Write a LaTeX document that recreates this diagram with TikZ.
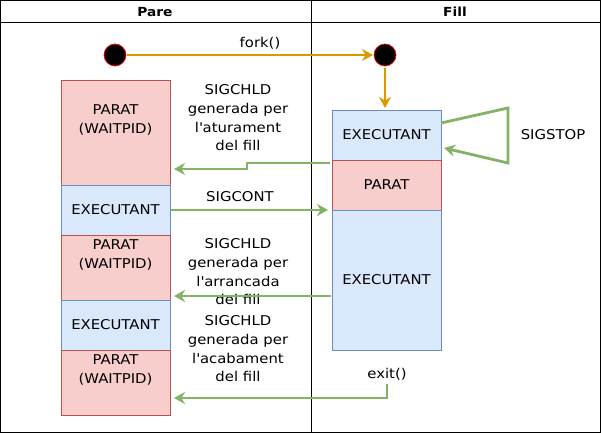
\documentclass[tikz,border=0pt]{standalone}
\usepackage{fontspec}
\setmainfont{DejaVu Sans}[FakeStretch=1.1]
\usetikzlibrary{arrows.meta}
\definecolor{redfill}{HTML}{F8CECC}
\definecolor{redline}{HTML}{B85450}
\definecolor{bluefill}{HTML}{DAE8FC}
\definecolor{blueline}{HTML}{6C8EBF}
\definecolor{gline}{HTML}{82B366}
\definecolor{oline}{HTML}{D79B00}
\newcommand{\sq}{\textquotesingle}
\begin{document}
\begin{tikzpicture}[x=1pt,y=-1pt,
  txt/.style={font=\fontsize{13.5}{18.7}\selectfont, align=center, inner sep=0pt},
  redbox/.style={draw=redline, fill=redfill, line width=0.9pt},
  bluebox/.style={draw=blueline, fill=bluefill, line width=0.9pt},
  garrow/.style={draw=gline, line width=2.8pt, -{Stealth[length=11pt,width=12pt,inset=3.5pt]}},
  oarrow/.style={draw=oline, line width=2.8pt, -{Stealth[length=11pt,width=12pt,inset=3.5pt]}},
  dot/.style={circle, fill=black, draw=red, line width=0.7pt, minimum size=22pt, inner sep=0pt}]
\useasboundingbox (0,0) rectangle (601,433);
% frame
\draw[line width=1pt] (0.5,0.5) rectangle (600.5,432.5);
\draw[line width=1pt] (0.5,23) -- (600.5,23);
\draw[line width=1pt] (311,0.5) -- (311,432.5);
\node[txt, font=\bfseries\fontsize{12.5}{15}\selectfont] (hpare) at (155,12) {Pare};
\node[txt, font=\bfseries\fontsize{12.5}{15}\selectfont] (hfill) at (455,12) {Fill};
% left column
\path[redbox] (61,80) rectangle (170,185);
\node[txt] (p1) at (115.5,120) {PARAT\\(WAITPID)};
\path[bluebox] (61,185) rectangle (170,235);
\node[txt] (e1) at (115.5,210) {EXECUTANT};
\path[redbox] (61,235) rectangle (170,300);
\node[txt] (p2) at (115.5,255) {PARAT\\(WAITPID)};
\path[bluebox] (61,300) rectangle (170,350);
\node[txt] (e2) at (115.5,325) {EXECUTANT};
\path[redbox] (61,350) rectangle (170,415);
\node[txt] (p3) at (115.5,370) {PARAT\\(WAITPID)};
% right column
\path[bluebox] (332,110) rectangle (441,160);
\node[txt] (re1) at (386.5,135) {EXECUTANT};
\path[redbox] (332,160) rectangle (441,210);
\node[txt] (rp) at (386.5,185) {PARAT};
\path[bluebox] (332,210) rectangle (441,350);
\node[txt] (re2) at (386.5,280) {EXECUTANT};
% dots
\node[dot] (d1) at (115,55) {};
\node[dot] (d2) at (385,55) {};
\coordinate (d1r) at (127,55);
\coordinate (d2l) at (373,55);
\draw[oarrow] (d1r) -- (d2l);
\node[txt] (fork) at (260,43) {fork()};
\coordinate (d2b) at (385,68);
\coordinate (re1t) at (385,108);
\draw[oarrow] (d2b) -- (re1t);
% SIGCHLD 1
\node[txt] (s1) at (238,118) {SIGCHLD\\generada per\\l\sq aturament\\del fill};
\coordinate (a1s) at (330,163);
\coordinate (a1e) at (174,169);
\draw[garrow] (a1s) -- (247,163) -- (247,169) -- (a1e);
% SIGCONT
\node[txt] (s2) at (240,197) {SIGCONT};
\coordinate (a2s) at (171,210);
\coordinate (a2e) at (328,210);
\draw[garrow] (a2s) -- (a2e);
% SIGCHLD 2
\node[txt] (s3) at (238,272) {SIGCHLD\\generada per\\l\sq arrancada\\del fill};
\coordinate (a3s) at (331,296);
\coordinate (a3e) at (174,296);
\draw[garrow] (a3s) -- (a3e);
% SIGCHLD 3
\node[txt] (s4) at (238,349) {SIGCHLD\\generada per\\l\sq acabament\\del fill};
\node[txt] (ex) at (387,374) {exit()};
\coordinate (a4s) at (387,384);
\coordinate (a4e) at (174,398);
\draw[garrow] (a4s) -- (387,398) -- (a4e);
% SIGSTOP loop
\coordinate (ls) at (441,123);
\coordinate (le) at (444,148);
\draw[garrow] (ls) -- (508,108) -- (508,163) -- (le);
\node[txt] (sst) at (553,135) {SIGSTOP};
\end{tikzpicture}
\end{document}
